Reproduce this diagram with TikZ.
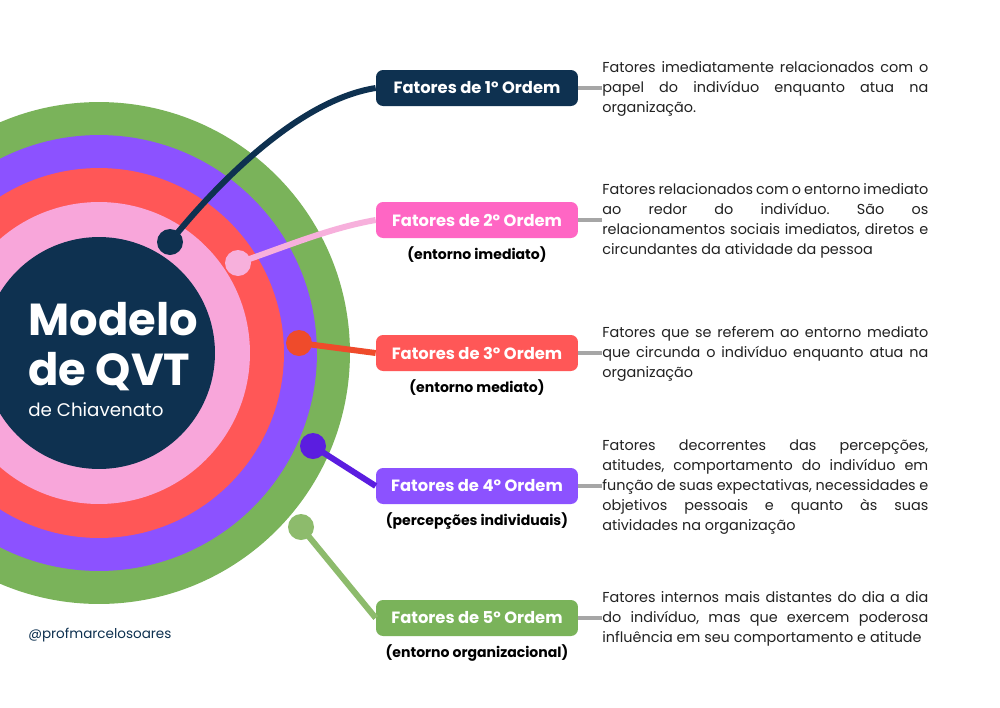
\documentclass[tikz,border=0pt]{standalone}
\usepackage{fontspec}
\setmainfont{Poppins}
\usepackage{xcolor}
\usetikzlibrary{positioning}

\definecolor{navy}{HTML}{0E3150}
\definecolor{ringpink}{HTML}{F8A6DA}
\definecolor{ringred}{HTML}{FF5757}
\definecolor{ringpurple}{HTML}{8C52FF}
\definecolor{ringgreen}{HTML}{7AB35A}
\definecolor{boxpink}{HTML}{FF66C4}
\definecolor{dotpink}{HTML}{F7B0DC}
\definecolor{dotred}{HTML}{EF4B2B}
\definecolor{dotpurple}{HTML}{5B1DE0}
\definecolor{dotgreen}{HTML}{8DBB6C}
\definecolor{linkgray}{HTML}{A6A6A6}
\definecolor{bodytext}{HTML}{222222}

\tikzset{
  ordem/.style={rounded corners=4pt, minimum width=4.04cm, minimum height=0.72cm,
    text=white, font=\fontsize{9.3}{11}\selectfont\bfseries, inner sep=0pt},
  sub/.style={font=\fontsize{8}{9}\selectfont\bfseries, text=black, inner sep=1pt},
  desc/.style={anchor=west, text width=6.52cm, align=justify, inner sep=0pt,
    text=bodytext, font=\fontsize{8.2}{11.38}\selectfont\frenchspacing},
  dot/.style={circle, minimum size=0.52cm, inner sep=0pt},
  link/.style={line width=3.4pt},
  graylink/.style={linkgray, line width=1.8pt}
}

\begin{document}
\begin{tikzpicture}[x=0.02cm, y=-0.02cm]
    \useasboundingbox (0,0) rectangle (1000,707);
    \clip (0,0) rectangle (1000,707);
    \fill[white] (0,0) rectangle (1000,707);

    % rings
    \foreach \r/\c in {5.02/ringgreen, 4.36/ringpurple, 3.70/ringred, 3.02/ringpink, 2.32/navy}
        \fill[\c] (99,353) circle[radius=\r cm];

    \node[text=white, font=\fontsize{25.5}{28}\selectfont\bfseries, anchor=base west, inner sep=0pt] (modelo) at (28,335) {Modelo};
    \node[text=white, font=\fontsize{25.5}{28}\selectfont\bfseries, anchor=base west, inner sep=0pt] (qvt) at (28,385) {de QVT};
    \node[text=white, font=\fontsize{10.4}{12}\selectfont, anchor=base west, inner sep=0pt] (chiav) at (28,416) {de Chiavenato};
    \node[text=navy, font=\fontsize{7.7}{9}\selectfont, anchor=base west, inner sep=0pt] (handle) at (28,638) {@profmarcelosoares};

    % boxes
    \node[ordem, fill=navy] (o1) at (477,88) {Fatores de 1º Ordem};
    \node[ordem, fill=boxpink] (o2) at (477,220) {Fatores de 2º Ordem};
    \node[ordem, fill=ringred] (o3) at (477,353) {Fatores de 3º Ordem};
    \node[ordem, fill=ringpurple] (o4) at (477,486) {Fatores de 4º Ordem};
    \node[ordem, fill=ringgreen] (o5) at (477,618) {Fatores de 5º Ordem};

    \node[sub, below=0.12cm of o2] (s2) {(entorno imediato)};
    \node[sub, below=0.12cm of o3] (s3) {(entorno mediato)};
    \node[sub, below=0.12cm of o4] (s4) {(percepções individuais)};
    \node[sub, below=0.12cm of o5] (s5) {(entorno organizacional)};

    % dots on the rings
    \node[dot, fill=navy] (p1) at (170,242) {};
    \node[dot, fill=dotpink] (p2) at (238,263) {};
    \node[dot, fill=dotred] (p3) at (299,343) {};
    \node[dot, fill=dotpurple] (p4) at (313,446) {};
    \node[dot, fill=dotgreen] (p5) at (301,527) {};

    \draw[link, navy] (p1.center) .. controls (220,180) and (300,100) .. (o1.west);
    \draw[link, dotpink] (p2.center) .. controls (290,245) and (330,228) .. (o2.west);
    \draw[link, dotred] (p3.center) -- (o3.west);
    \draw[link, dotpurple] (p4.center) -- (o4.west);
    \draw[link, dotgreen] (p5.center) -- (o5.west);

    % descriptions
    \node[desc] (d1) at (602,89) {Fatores imediatamente relacionados com o\linebreak papel do indivíduo enquanto atua na\linebreak organização.};
    \node[desc] (d2) at (602,221) {Fatores relacionados com o entorno imediato\linebreak ao redor do indivíduo. São os\linebreak relacionamentos sociais imediatos, diretos e\linebreak circundantes da atividade da pessoa};
    \node[desc] (d3) at (602,354) {Fatores que se referem ao entorno mediato\linebreak que circunda o indivíduo enquanto atua na\linebreak organização};
    \node[desc] (d4) at (602,487) {Fatores decorrentes das percepções,\linebreak atitudes, comportamento do indivíduo em\linebreak função de suas expectativas, necessidades e\linebreak objetivos pessoais e quanto às suas\linebreak atividades na organização};
    \node[desc] (d5) at (602,619) {Fatores internos mais distantes do dia a dia\linebreak do indivíduo, mas que exercem poderosa\linebreak influência em seu comportamento e atitude};

    \foreach \i in {1,...,5}
        \draw[graylink] (o\i.east) -- (o\i.east -| d\i.west);
\end{tikzpicture}
\end{document}
